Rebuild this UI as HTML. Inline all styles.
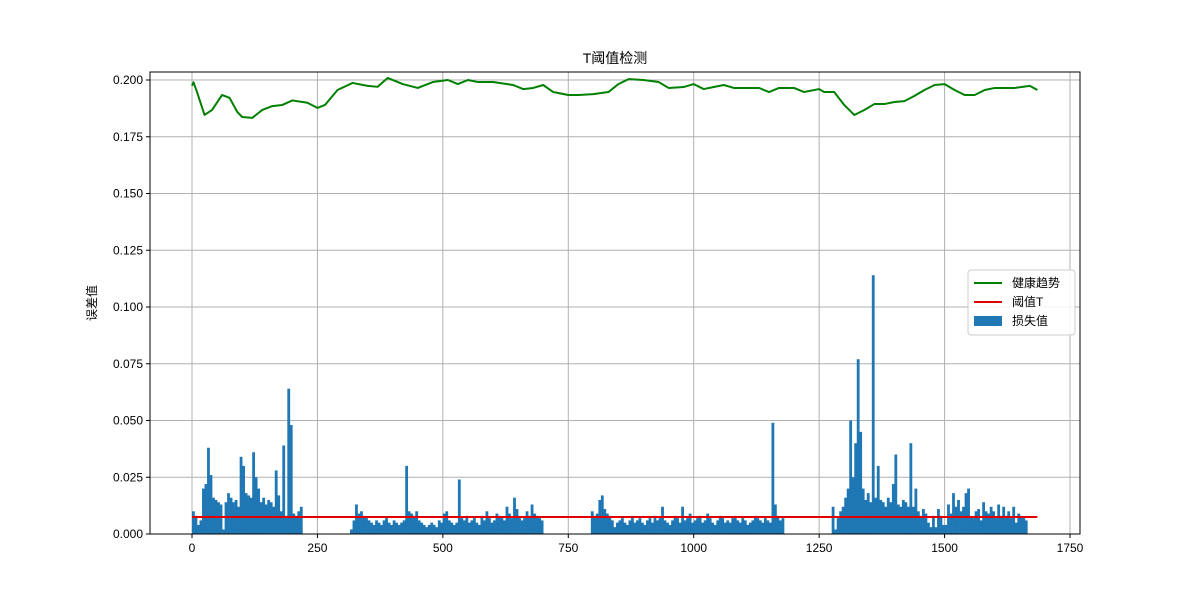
<!DOCTYPE html>
<html><head><meta charset="utf-8"><style>
body{margin:0;background:#fff;width:1200px;height:600px;overflow:hidden}
svg text{font-family:"Liberation Sans","Noto Sans CJK SC",sans-serif}
</style></head><body>
<svg id="chart" width="1200" height="600" xmlns="http://www.w3.org/2000/svg"></svg>
<script>
const xTicks=[0,250,500,750,1000,1250,1500,1750];
const yTicks=[0,0.025,0.05,0.075,0.1,0.125,0.15,0.175,0.2];
const yTickLabels=["0.000","0.025","0.050","0.075","0.100","0.125","0.150","0.175","0.200"];
const barStep=5;
const segAStart=0;
const segA=[10,8,4,6,20,22,38,26,16,15,14,13,2,14,18,16,14,15,12,34,30,18,17,16,36,25,20,14,16,13,15,14,12,28,17,10,39,8,64,48,9,8,10,12];
const segBStart=315;
const segB=[2,6,13,9,10,8,7,6,5,4,6,5,4,6,7,5,4,6,5,4,5,6,30,10,9,8,10,6,5,4,3,4,5,4,3,6,5,9,10,6,5,4,5,24,7,6,8,5,6,7,5,4,8,6,10,7,5,6,9,8,7,6,12,9,7,16,11,8,6,7,10,8,13,9,8,7,6];
const segCStart=795;
const segC=[10,8,9,15,17,11,9,8,6,3,5,6,7,5,4,6,8,5,6,7,5,4,6,7,5,8,6,7,12,6,5,4,6,8,7,5,12,6,7,9,5,6,7,8,5,6,9,7,5,4,6,8,7,5,6,5,7,8,6,5,7,6,4,5,6,8,7,6,5,7,6,5,49,13,8,6,7];
const segDStart=1275;
const segD=[12,2,7,10,12,16,20,50,25,40,77,45,20,15,18,14,114,16,30,15,14,12,16,14,22,35,13,12,15,14,12,40,12,20,10,8,11,9,5,3,8,3,11,8,4,4,13,9,18,12,15,10,12,18,20,8,7,10,11,6,14,10,9,12,10,7,13,8,12,8,10,7,12,5,9,8,7,6];
const threshold=0.0075;
const thrRange=[0,1685];
const trendX=[0,3,10,25,40,60,75,90,100,120,140,160,180,200,230,250,265,290,320,350,370,390,420,450,480,510,530,550,570,600,640,660,680,700,720,750,770,800,830,850,870,900,930,950,980,1000,1020,1040,1060,1080,1100,1130,1150,1170,1200,1220,1250,1260,1280,1300,1320,1340,1360,1380,1400,1420,1440,1460,1480,1500,1520,1540,1560,1580,1600,1640,1670,1685];
const trendY=[0.1975,0.199,0.1947,0.1846,0.1868,0.1934,0.1921,0.186,0.1837,0.1833,0.1868,0.1885,0.189,0.191,0.190,0.1877,0.189,0.1956,0.1987,0.1974,0.197,0.2009,0.1982,0.1965,0.1991,0.200,0.1982,0.200,0.1991,0.1991,0.1978,0.196,0.1965,0.1978,0.1947,0.1934,0.1934,0.1938,0.1947,0.1982,0.2004,0.200,0.1991,0.1965,0.1969,0.1982,0.196,0.1969,0.1978,0.1965,0.1965,0.1965,0.1947,0.1965,0.1965,0.1947,0.196,0.1947,0.1947,0.189,0.1846,0.1868,0.1894,0.1894,0.1903,0.1907,0.1930,0.1956,0.1978,0.1982,0.1956,0.1934,0.1934,0.1956,0.1965,0.1965,0.1974,0.1956];

const L=150,R=1080,T=72,B=534;
const xs=v=>192+v*(1070-192)/1750;
const ys=v=>534-v*(534-80)/0.2;
const svg=document.getElementById('chart');
const NS='http://www.w3.org/2000/svg';
function mk(tag,attrs,parent){const e=document.createElementNS(NS,tag);for(const k in attrs)e.setAttribute(k,attrs[k]);(parent||svg).appendChild(e);return e;}

xTicks.forEach(t=>{const g=mk('line',{x1:xs(t),x2:xs(t),y1:T,y2:B,stroke:'#b0b0b0','stroke-width':1});

});
yTicks.forEach(t=>{const g=mk('line',{x1:L,x2:R,y1:ys(t),y2:ys(t),stroke:'#b0b0b0','stroke-width':1});

});

const bw=barStep*(1070-192)/1750;
[[segAStart,segA],[segBStart,segB],[segCStart,segC],[segDStart,segD]].forEach(([s,arr])=>{
 arr.forEach((v,i)=>{const val=v/1000;const x=xs(s+i*barStep);
  const r=mk('rect',{x:x,y:ys(val),width:bw+0.3,height:ys(0)-ys(val),fill:'#1f77b4'});
  
  });
});

const th=mk('line',{x1:xs(thrRange[0]),x2:xs(thrRange[1]),y1:ys(threshold),y2:ys(threshold),stroke:'#e00000','stroke-width':2});



const tp=mk('polyline',{points:trendX.map((x,i)=>xs(x)+','+ys(trendY[i])).join(' '),fill:'none',stroke:'#008000','stroke-width':2,'stroke-linejoin':'round'});



const fr=mk('rect',{x:L,y:T,width:R-L,height:B-T,fill:'none',stroke:'#000','stroke-width':1});



xTicks.forEach(t=>{mk('line',{x1:xs(t),x2:xs(t),y1:B,y2:B+4,stroke:'#000'});
 const tx=mk('text',{x:xs(t),y:B+18,'text-anchor':'middle','font-size':12});tx.textContent=t;
 
 });
yTicks.forEach((t,i)=>{mk('line',{x1:L-4,x2:L,y1:ys(t),y2:ys(t),stroke:'#000'});
 const tx=mk('text',{x:L-7,y:ys(t)+4,'text-anchor':'end','font-size':12});tx.textContent=yTickLabels[i];
 
 });
</script>
<svg style="position:absolute;left:0;top:0" width="1200" height="600">
<text x="615" y="63" text-anchor="middle" font-size="14">T阈值检测</text>
<text x="96" y="303" text-anchor="middle" font-size="12" transform="rotate(-90 96 303)">误差值</text>
<g>
<rect x="968" y="270" width="107" height="65" rx="3" fill="#fff" fill-opacity="0.85" stroke="#ccc"/>
<line x1="974" y1="283" x2="1002" y2="283" stroke="#008000" stroke-width="2"/>
<text x="1012" y="287" font-size="12">健康趋势</text>
<line x1="974" y1="302" x2="1002" y2="302" stroke="#e00000" stroke-width="2"/>
<text x="1012" y="306" font-size="12">阈值T</text>
<rect x="974" y="316" width="28" height="10" fill="#1f77b4"/>
<text x="1012" y="325" font-size="12">损失值</text>
</g>
</svg>
</body></html>
